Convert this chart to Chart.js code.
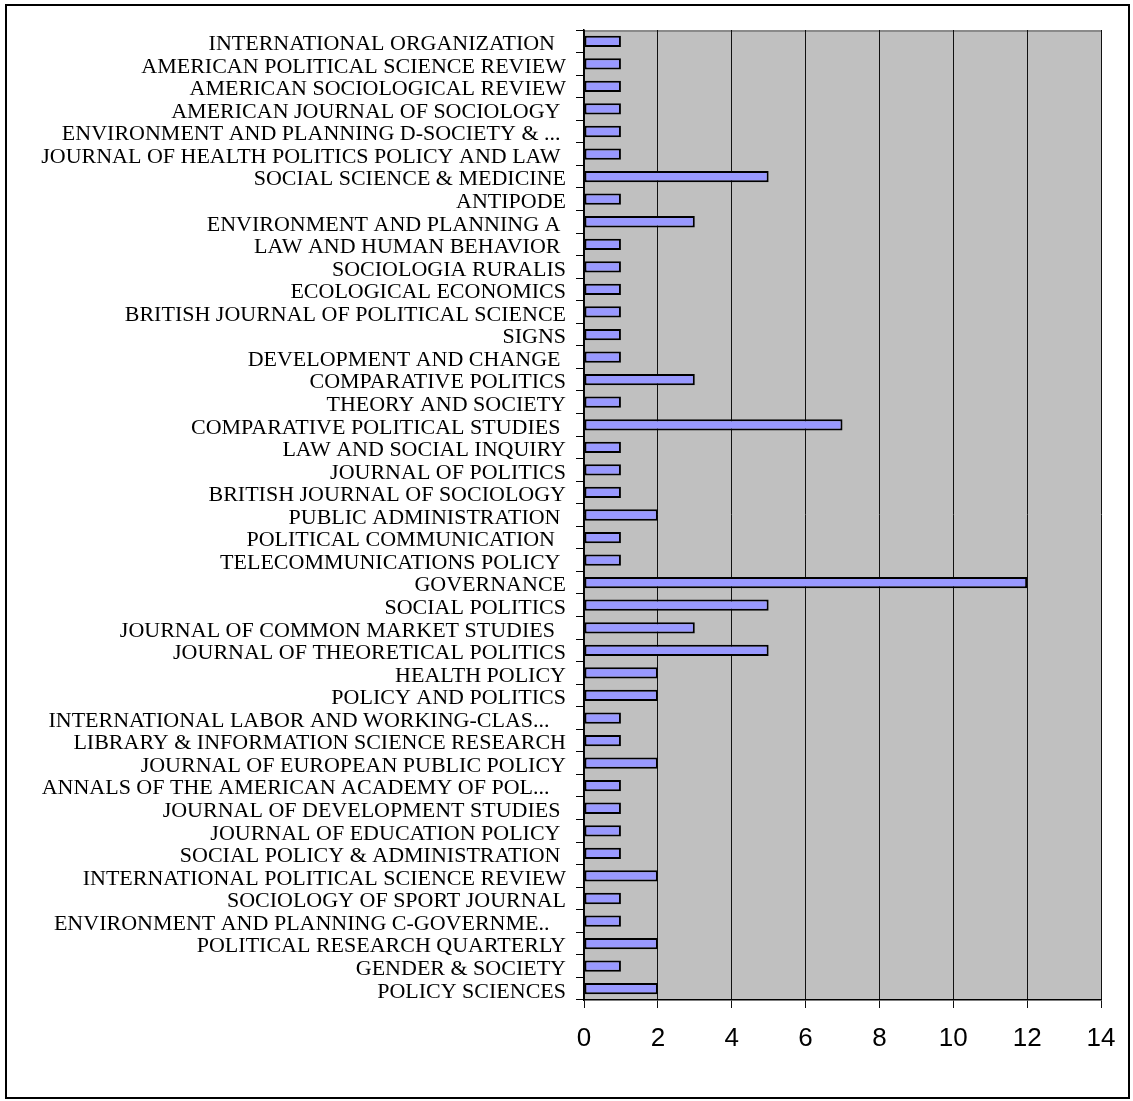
<!DOCTYPE html>
<html>
<head>
<meta charset="utf-8">
<script src="https://cdn.jsdelivr.net/npm/chart.js@4"></script>
<style>
html,body{margin:0;padding:0;background:#fff;overflow:hidden;}
#wrap{position:relative;width:1133px;height:1101px;overflow:hidden;}
#frame{position:absolute;left:5px;top:4px;width:1121px;height:1091px;border:2.5px solid #000;pointer-events:none;}
canvas{position:absolute;left:0;top:0;}
</style>
</head>
<body>
<div id="wrap">
<canvas id="c" width="1133" height="1101"></canvas>
<div id="frame"></div>
</div>
<script>
const categories = [
  "INTERNATIONAL ORGANIZATION  ",
  "AMERICAN POLITICAL SCIENCE REVIEW",
  "AMERICAN SOCIOLOGICAL REVIEW",
  "AMERICAN JOURNAL OF SOCIOLOGY ",
  "ENVIRONMENT AND PLANNING D-SOCIETY & ... ",
  "JOURNAL OF HEALTH POLITICS POLICY AND LAW ",
  "SOCIAL SCIENCE & MEDICINE",
  "ANTIPODE",
  "ENVIRONMENT AND PLANNING A ",
  "LAW AND HUMAN BEHAVIOR ",
  "SOCIOLOGIA RURALIS",
  "ECOLOGICAL ECONOMICS",
  "BRITISH JOURNAL OF POLITICAL SCIENCE",
  "SIGNS",
  "DEVELOPMENT AND CHANGE ",
  "COMPARATIVE POLITICS",
  "THEORY AND SOCIETY",
  "COMPARATIVE POLITICAL STUDIES ",
  "LAW AND SOCIAL INQUIRY",
  "JOURNAL OF POLITICS",
  "BRITISH JOURNAL OF SOCIOLOGY",
  "PUBLIC ADMINISTRATION ",
  "POLITICAL COMMUNICATION  ",
  "TELECOMMUNICATIONS POLICY ",
  "GOVERNANCE",
  "SOCIAL POLITICS",
  "JOURNAL OF COMMON MARKET STUDIES  ",
  "JOURNAL OF THEORETICAL POLITICS",
  "HEALTH POLICY",
  "POLICY AND POLITICS",
  "INTERNATIONAL LABOR AND WORKING-CLAS...   ",
  "LIBRARY & INFORMATION SCIENCE RESEARCH",
  "JOURNAL OF EUROPEAN PUBLIC POLICY",
  "ANNALS OF THE AMERICAN ACADEMY OF POL...   ",
  "JOURNAL OF DEVELOPMENT STUDIES ",
  "JOURNAL OF EDUCATION POLICY ",
  "SOCIAL POLICY & ADMINISTRATION ",
  "INTERNATIONAL POLITICAL SCIENCE REVIEW",
  "SOCIOLOGY OF SPORT JOURNAL",
  "ENVIRONMENT AND PLANNING C-GOVERNME..   ",
  "POLITICAL RESEARCH QUARTERLY",
  "GENDER & SOCIETY",
  "POLICY SCIENCES"
];
const counts = [1,1,1,1,1,1,5,1,3,1,1,1,1,1,1,3,1,7,1,1,1,2,1,1,12,5,3,5,2,2,1,1,2,1,1,1,1,2,1,1,2,1,2];
const xTicks = [0,2,4,6,8,10,12,14];

const plotBg = {
  id: 'plotBg',
  beforeDraw(chart) {
    const a = chart.chartArea, ctx = chart.ctx;
    ctx.save();
    ctx.fillStyle = '#C0C0C0';
    ctx.fillRect(a.left, a.top, a.right - a.left, a.bottom - a.top);
    ctx.strokeStyle = '#8a8a8a';
    ctx.lineWidth = 2;
    ctx.beginPath();
    ctx.moveTo(a.left, a.top + 1);
    ctx.lineTo(a.right, a.top + 1);
    ctx.stroke();
    ctx.restore();
  }
};

new Chart(document.getElementById('c'), {
  type: 'bar',
  data: {
    labels: categories,
    datasets: [{
      data: counts,
      backgroundColor: '#9999FF',
      borderColor: '#000000',
      borderWidth: 2,
      borderSkipped: false,
      barPercentage: 0.5,
      categoryPercentage: 1.0
    }]
  },
  options: {
    indexAxis: 'y',
    responsive: false,
    animation: false,
    events: [],
    layout: { padding: { top: 30, right: 32, left: 0, bottom: 0 } },
    plugins: { legend: { display: false }, tooltip: { enabled: false } },
    scales: {
      x: {
        min: 0, max: 14,
        afterBuildTicks(s) { s.ticks = xTicks.map(v => ({ value: v })); },
        afterFit(s) { s.height = 101; },
        grid: { color: '#111', lineWidth: 1, tickLength: 8, drawTicks: true },
        border: { color: '#000', width: 1.5 },
        ticks: { color: '#000', padding: 15, font: { family: '"Liberation Sans", Arial, sans-serif', size: 26 } }
      },
      y: {
        afterFit(s) { s.width = 584; },
        grid: { drawOnChartArea: false, color: '#000', tickLength: 8, offset: true },
        border: { color: '#000', width: 1.5 },
        ticks: { color: '#000', autoSkip: false, padding: 10, labelOffset: 3, font: { family: '"Liberation Serif", "Times New Roman", serif', size: 22 } }
      }
    }
  },
  plugins: [plotBg]
});
</script>
</body>
</html>
